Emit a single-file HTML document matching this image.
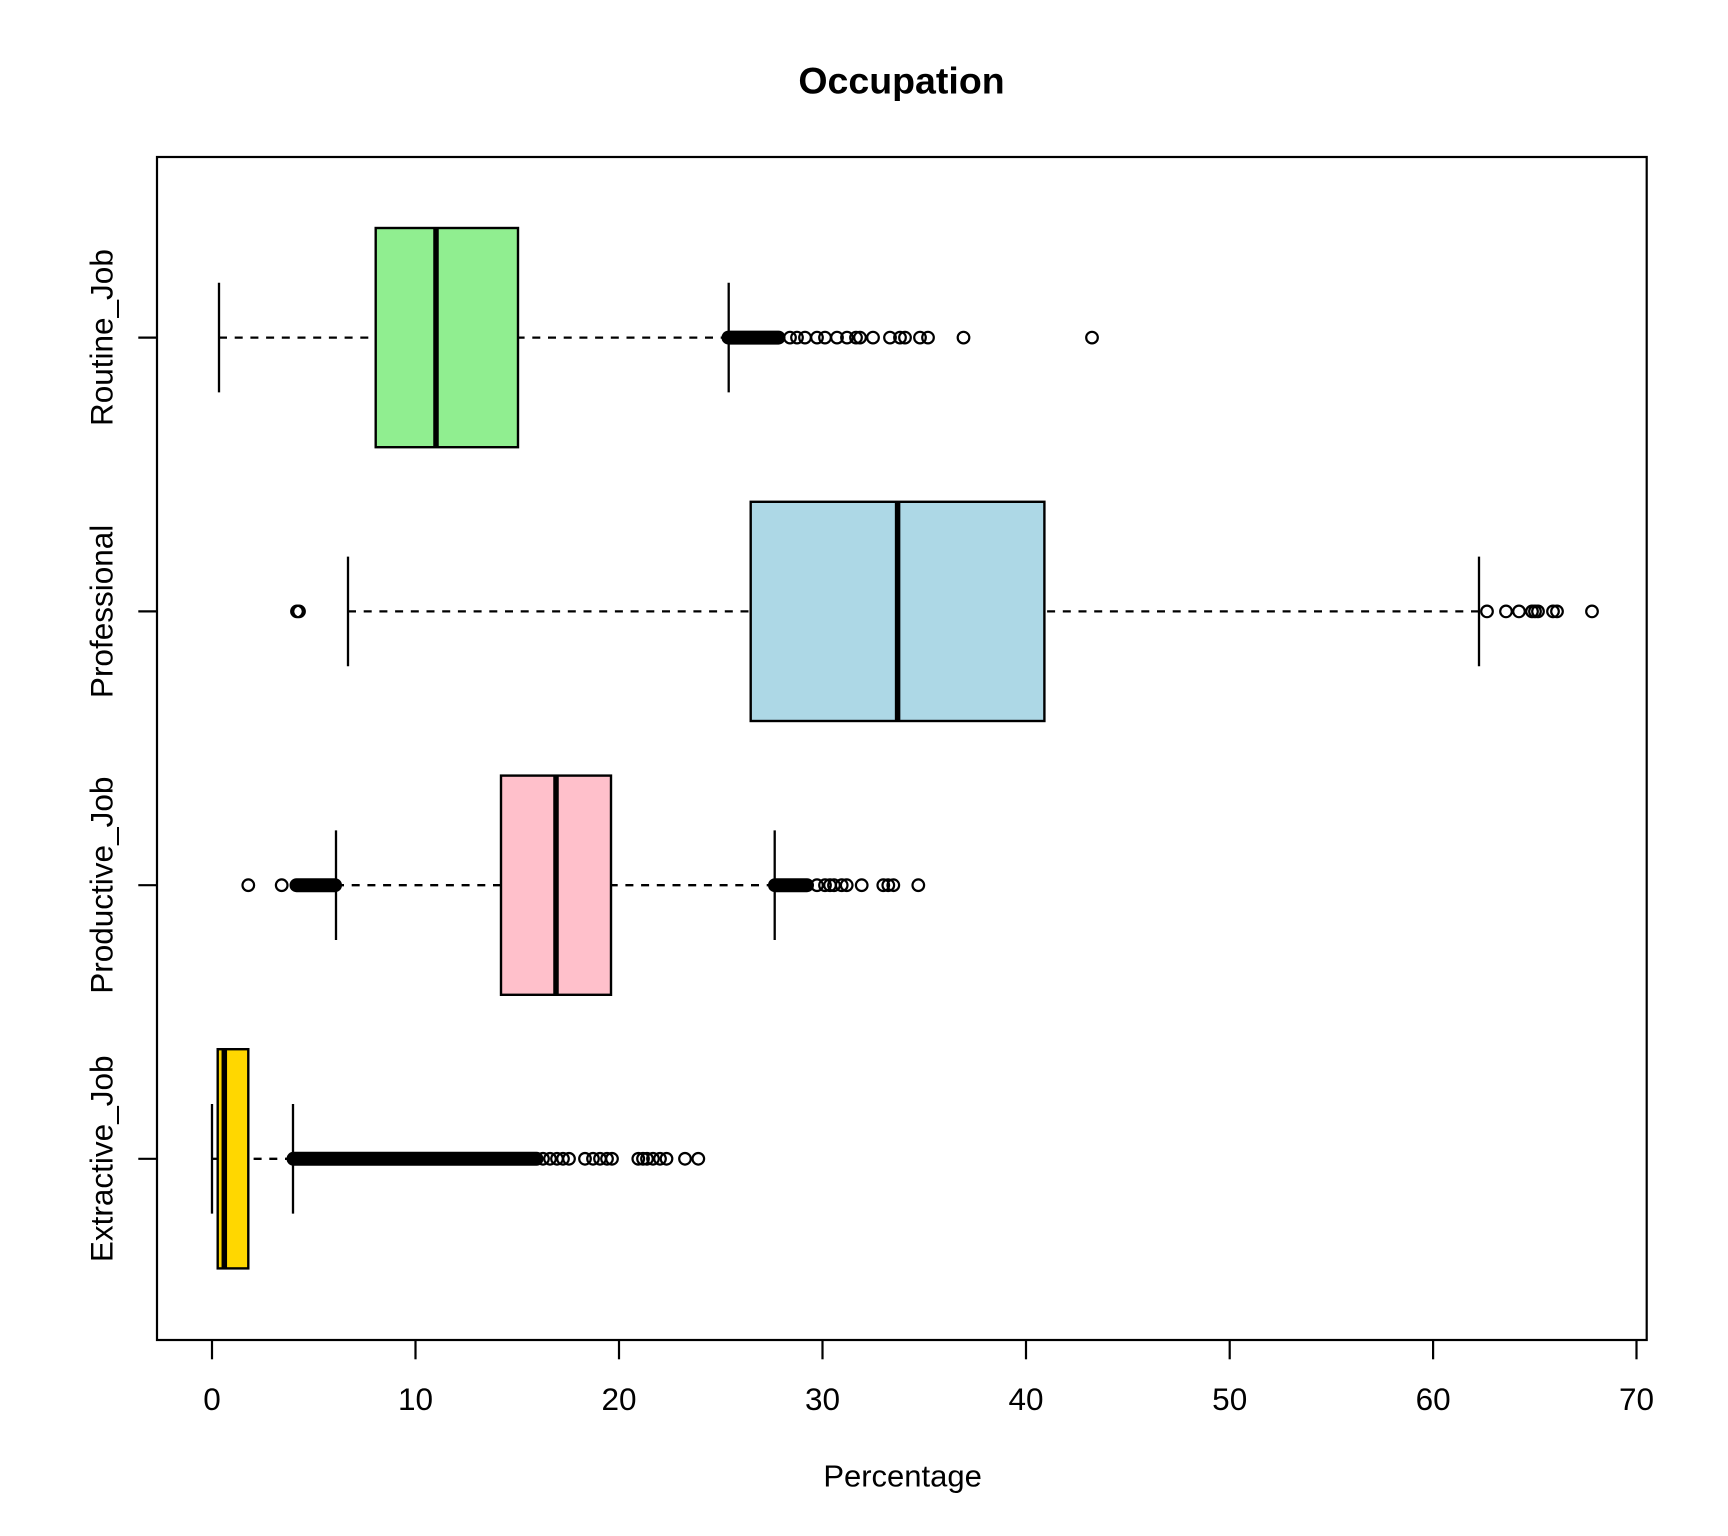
<!DOCTYPE html>
<html>
<head>
<meta charset="utf-8">
<style>
html,body{margin:0;padding:0;background:#fff;}
svg{display:block;}
text{font-family:"Liberation Sans", Arial, sans-serif;fill:#000;}
</style>
</head>
<body>
<svg width="1728" height="1536" viewBox="0 0 1728 1536" xmlns="http://www.w3.org/2000/svg">
<rect x="0" y="0" width="1728" height="1536" fill="#fff"/>

<!-- Title -->
<text x="901.5" y="93.3" font-size="37.5" font-weight="bold" text-anchor="middle">Occupation</text>

<!-- ===== Whiskers (dashed) ===== -->
<g stroke="#000" stroke-width="2.3" stroke-dasharray="8 7.7" fill="none">
  <line x1="219" y1="337.6" x2="375.7" y2="337.6"/>
  <line x1="728.7" y1="337.6" x2="518" y2="337.6"/>
  <line x1="348" y1="611.4" x2="750.7" y2="611.4"/>
  <line x1="1479" y1="611.4" x2="1044.4" y2="611.4"/>
  <line x1="336" y1="885.2" x2="501" y2="885.2"/>
  <line x1="774.7" y1="885.2" x2="611" y2="885.2"/>
  <line x1="212" y1="1158.8" x2="217.7" y2="1158.8"/>
  <line x1="293" y1="1158.8" x2="248.3" y2="1158.8"/>
</g>

<!-- ===== Staples ===== -->
<g stroke="#000" stroke-width="2.3" fill="none">
  <line x1="219" y1="282.8" x2="219" y2="392.4"/>
  <line x1="728.7" y1="282.8" x2="728.7" y2="392.4"/>
  <line x1="348" y1="556.6" x2="348" y2="666.2"/>
  <line x1="1479" y1="556.6" x2="1479" y2="666.2"/>
  <line x1="336" y1="830.4" x2="336" y2="940"/>
  <line x1="774.7" y1="830.4" x2="774.7" y2="940"/>
  <line x1="212" y1="1104" x2="212" y2="1213.6"/>
  <line x1="293" y1="1104" x2="293" y2="1213.6"/>
</g>

<!-- ===== Boxes ===== -->
<g stroke="#000" stroke-width="2.4">
  <rect x="375.7" y="228" width="142.3" height="219.2" fill="#90EE90"/>
  <rect x="750.7" y="501.8" width="293.7" height="219.2" fill="#ADD8E6"/>
  <rect x="501" y="775.6" width="110" height="219.2" fill="#FFC0CB"/>
  <rect x="217.7" y="1049.2" width="30.6" height="219.2" fill="#FFD700"/>
</g>

<!-- ===== Medians ===== -->
<g stroke="#000" stroke-width="5.5">
  <line x1="436" y1="228" x2="436" y2="447.2"/>
  <line x1="897.6" y1="501.8" x2="897.6" y2="721"/>
  <line x1="556" y1="775.6" x2="556" y2="994.8"/>
  <line x1="224.3" y1="1049.2" x2="224.3" y2="1268.4"/>
</g>

<!-- ===== Outliers ===== -->
<g fill="#000">
  <rect x="721.5" y="330.6" width="64" height="14" rx="7"/>
  <rect x="289.5" y="878.2" width="52.5" height="14" rx="7"/>
  <rect x="768" y="878.2" width="46" height="14" rx="7"/>
  <rect x="286.5" y="1151.8" width="257" height="14" rx="7"/>
</g>
<g fill="none" stroke="#000" stroke-width="2.2">
  <!-- Routine -->
  <circle cx="790" cy="337.6" r="5.8"/>
  <circle cx="797" cy="337.6" r="5.8"/>
  <circle cx="805" cy="337.6" r="5.8"/>
  <circle cx="817" cy="337.6" r="5.8"/>
  <circle cx="825" cy="337.6" r="5.8"/>
  <circle cx="837" cy="337.6" r="5.8"/>
  <circle cx="847" cy="337.6" r="5.8"/>
  <circle cx="856" cy="337.6" r="5.8"/>
  <circle cx="860" cy="337.6" r="5.8"/>
  <circle cx="873" cy="337.6" r="5.8"/>
  <circle cx="890" cy="337.6" r="5.8"/>
  <circle cx="900" cy="337.6" r="5.8"/>
  <circle cx="905" cy="337.6" r="5.8"/>
  <circle cx="920" cy="337.6" r="5.8"/>
  <circle cx="928" cy="337.6" r="5.8"/>
  <circle cx="963.5" cy="337.6" r="5.8"/>
  <circle cx="1092" cy="337.6" r="5.8"/>
  <!-- Professional -->
  <circle cx="297" cy="611.4" r="5.8"/>
  <circle cx="299" cy="611.4" r="5.8"/>
  <circle cx="1487" cy="611.4" r="5.8"/>
  <circle cx="1506" cy="611.4" r="5.8"/>
  <circle cx="1519" cy="611.4" r="5.8"/>
  <circle cx="1532" cy="611.4" r="5.8"/>
  <circle cx="1535" cy="611.4" r="5.8"/>
  <circle cx="1538" cy="611.4" r="5.8"/>
  <circle cx="1553" cy="611.4" r="5.8"/>
  <circle cx="1557" cy="611.4" r="5.8"/>
  <circle cx="1592" cy="611.4" r="5.8"/>
  <!-- Productive -->
  <circle cx="248.3" cy="885.2" r="5.8"/>
  <circle cx="281.7" cy="885.2" r="5.8"/>
  <circle cx="817" cy="885.2" r="5.8"/>
  <circle cx="825" cy="885.2" r="5.8"/>
  <circle cx="830" cy="885.2" r="5.8"/>
  <circle cx="834" cy="885.2" r="5.8"/>
  <circle cx="841.7" cy="885.2" r="5.8"/>
  <circle cx="846.7" cy="885.2" r="5.8"/>
  <circle cx="861.7" cy="885.2" r="5.8"/>
  <circle cx="883.3" cy="885.2" r="5.8"/>
  <circle cx="888.3" cy="885.2" r="5.8"/>
  <circle cx="893.3" cy="885.2" r="5.8"/>
  <circle cx="918.3" cy="885.2" r="5.8"/>
  <!-- Extractive -->
  <circle cx="543" cy="1158.8" r="5.8"/>
  <circle cx="550" cy="1158.8" r="5.8"/>
  <circle cx="557" cy="1158.8" r="5.8"/>
  <circle cx="563" cy="1158.8" r="5.8"/>
  <circle cx="569" cy="1158.8" r="5.8"/>
  <circle cx="585" cy="1158.8" r="5.8"/>
  <circle cx="593" cy="1158.8" r="5.8"/>
  <circle cx="600" cy="1158.8" r="5.8"/>
  <circle cx="607" cy="1158.8" r="5.8"/>
  <circle cx="612" cy="1158.8" r="5.8"/>
  <circle cx="638.3" cy="1158.8" r="5.8"/>
  <circle cx="643" cy="1158.8" r="5.8"/>
  <circle cx="647" cy="1158.8" r="5.8"/>
  <circle cx="653" cy="1158.8" r="5.8"/>
  <circle cx="660" cy="1158.8" r="5.8"/>
  <circle cx="666.5" cy="1158.8" r="5.8"/>
  <circle cx="685" cy="1158.8" r="5.8"/>
  <circle cx="698.3" cy="1158.8" r="5.8"/>
</g>

<!-- ===== Plot frame ===== -->
<rect x="157" y="157" width="1489.7" height="1183" fill="none" stroke="#000" stroke-width="2.2"/>

<!-- ===== Y axis ticks & labels ===== -->
<g stroke="#000" stroke-width="2.2">
  <line x1="138.3" y1="337.6" x2="157" y2="337.6"/>
  <line x1="138.3" y1="611.4" x2="157" y2="611.4"/>
  <line x1="138.3" y1="885.2" x2="157" y2="885.2"/>
  <line x1="138.3" y1="1158.8" x2="157" y2="1158.8"/>
</g>
<g font-size="31.5" text-anchor="middle">
  <text transform="translate(112.5,337.6) rotate(-90)">Routine_Job</text>
  <text transform="translate(112.5,611.4) rotate(-90)">Professional</text>
  <text transform="translate(112.5,885.2) rotate(-90)">Productive_Job</text>
  <text transform="translate(112.5,1158.8) rotate(-90)">Extractive_Job</text>
</g>

<!-- ===== X axis ticks & labels ===== -->
<g stroke="#000" stroke-width="2.2">
  <line x1="212" y1="1340" x2="212" y2="1359.3"/>
  <line x1="415.5" y1="1340" x2="415.5" y2="1359.3"/>
  <line x1="619" y1="1340" x2="619" y2="1359.3"/>
  <line x1="822.5" y1="1340" x2="822.5" y2="1359.3"/>
  <line x1="1026" y1="1340" x2="1026" y2="1359.3"/>
  <line x1="1229.7" y1="1340" x2="1229.7" y2="1359.3"/>
  <line x1="1433.1" y1="1340" x2="1433.1" y2="1359.3"/>
  <line x1="1636.5" y1="1340" x2="1636.5" y2="1359.3"/>
</g>
<g font-size="31.5" text-anchor="middle">
  <text x="212" y="1410">0</text>
  <text x="415.5" y="1410">10</text>
  <text x="619" y="1410">20</text>
  <text x="822.5" y="1410">30</text>
  <text x="1026" y="1410">40</text>
  <text x="1229.7" y="1410">50</text>
  <text x="1433.1" y="1410">60</text>
  <text x="1636.5" y="1410">70</text>
</g>

<!-- X axis title -->
<text x="902.6" y="1486.7" font-size="31" text-anchor="middle">Percentage</text>
</svg>
</body>
</html>
